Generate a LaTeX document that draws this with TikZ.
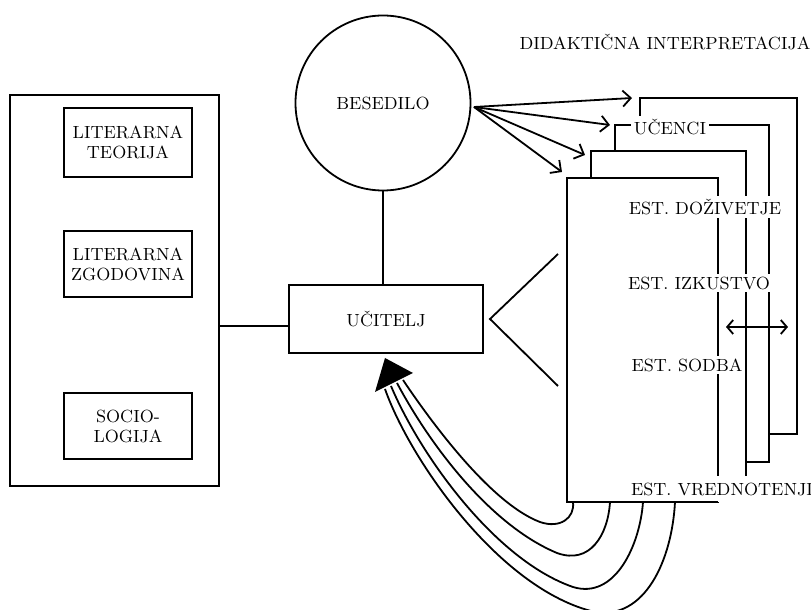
\documentclass[tikz,border=0pt]{standalone}
\usetikzlibrary{arrows.meta}

\begin{document}
\begin{tikzpicture}[x=0.5pt, y=-0.5pt, line width=0.9pt,
        napis/.style={font=\fontsize{8.8}{10}\selectfont, align=center, inner sep=1.5pt},
        skatla/.style={draw, napis, minimum width=64pt},
        list/.style={draw, fill=white, outer sep=0pt},
        oznaka/.style={napis, fill=white},
        puscica/.style={-{Straight Barb[length=4pt, width=8pt]}}]
    \useasboundingbox (0, 0) rectangle (811, 610);

    \node[draw, minimum width=104.5pt, minimum height=195.5pt] (znanost) at (114.5, 290.5) {};
    \node[skatla, minimum height=34.5pt] (teorija) at (128, 142.5) {LITERARNA\\TEORIJA};
    \node[skatla, minimum height=33pt] (zgodovina) at (128, 264) {LITERARNA\\ZGODOVINA};
    \node[skatla, minimum height=33pt] (sociologija) at (128, 426) {SOCIO-\\LOGIJA};

    \node[draw, circle, napis, minimum size=87.5pt] (besedilo) at (383, 103) {BESEDILO};
    \node[draw, napis, minimum width=97pt, minimum height=34pt] (ucitelj) at (386, 319) {UČITELJ};

    \draw (znanost.east |- 0, 326) to (ucitelj.west |- 0, 326);
    \draw (besedilo.south) to (besedilo.south |- ucitelj.north);

    \coordinate (klin) at (490, 319);
    \draw (558, 254) to (klin) to (558, 386);

    % listi, od zadnjega do prvega
    \node[list, minimum width=78.5pt, minimum height=168pt] (stranD) at (718.5, 266) {};
    \node[list, minimum width=77pt, minimum height=168.5pt] (stranC) at (692, 293.5) {};
    \node[list, minimum width=77.5pt, minimum height=169.5pt] (stranB) at (668.5, 320.5) {};
    \node[list, minimum width=75.5pt, minimum height=162pt] (stranA) at (642.5, 340) {};

    \node[oznaka] (ucenci) at (670, 127) {UČENCI};
    \node[oznaka] (dozivetje) at (705, 207) {EST. DOŽIVETJE};
    \node[oznaka] (izkustvo) at (699, 283) {EST. IZKUSTVO};
    \node[oznaka] (sodba) at (687, 365) {EST. SODBA};
    \node[oznaka, inner ysep=3.5pt] (vrednotenji) at (722, 489) {EST. VREDNOTENJI};
    \node[napis] (didaktika) at (665, 42) {DIDAKTIČNA INTERPRETACIJA};
    \draw (stranA.south west) to (stranA.south east);

    \draw[{Straight Barb[length=3pt, width=7pt]}-{Straight Barb[length=3pt, width=7pt]}] (726, 327) to (788, 327);

    \coordinate (izvor) at (474, 107);
    \draw[puscica] (izvor) to ([xshift=-4pt]stranD.north west);
    \draw[puscica] (izvor) to ([xshift=-2.5pt]stranC.north west);
    \draw[puscica] (izvor) to ([xshift=-3pt, yshift=-2pt]stranB.north west);
    \draw[puscica] (izvor) to ([xshift=-2.5pt, yshift=3pt]stranA.north west);

    \coordinate (konica) at (385, 358);
    \fill (konica) -- (375, 392) -- (413, 373) -- cycle;

    \draw (stranA.south west) ++(6, 0) .. controls (575, 518) and (560, 529) .. (540, 522)
        .. controls (495, 505) and (440, 435) .. (403, 380);
    \draw (stranA.south west) ++(43, 0) .. controls (608, 535) and (590, 565) .. (557, 553)
        .. controls (490, 525) and (430, 445) .. (397, 383);
    \draw (stranA.south west) ++(76, 0) .. controls (640, 545) and (615, 600) .. (573, 587)
        .. controls (495, 560) and (420, 455) .. (391, 386);
    \draw (stranA.south west) ++(108, 0) .. controls (672, 560) and (645, 620) .. (595, 612)
        .. controls (500, 590) and (410, 460) .. (385, 389);
\end{tikzpicture}
\end{document}
